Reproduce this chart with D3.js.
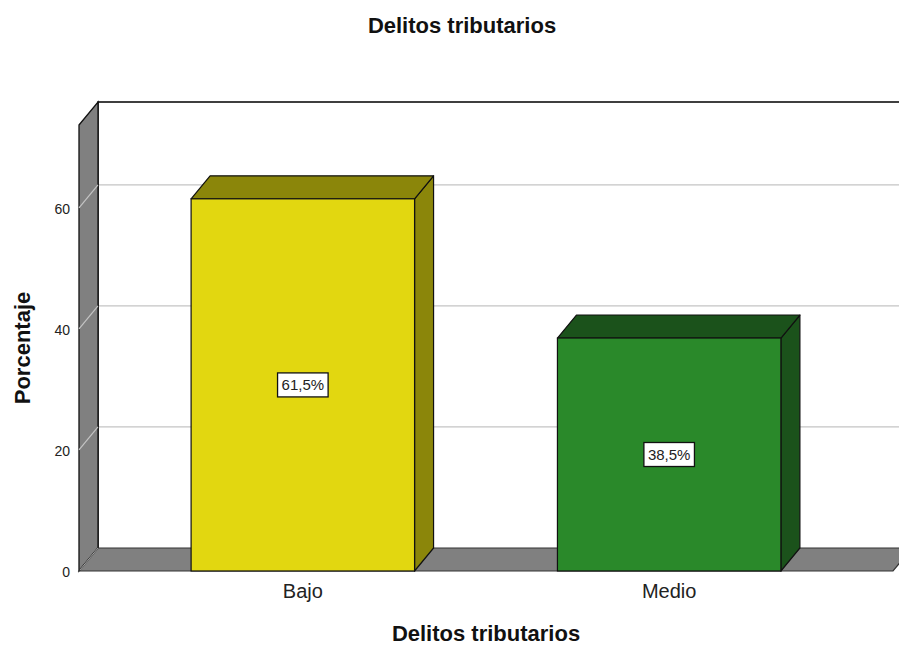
<!DOCTYPE html>
<html>
<head>
<meta charset="utf-8">
<script src="https://cdn.jsdelivr.net/npm/d3@7"></script>
<style>
  html, body { margin: 0; padding: 0; background: #fff; }
  svg { display: block; font-family: "Liberation Sans", Arial, sans-serif; }
</style>
</head>
<body>
<svg id="chart" width="899" height="647"></svg>
<script>
// ---- data ----
const categories = ["Bajo", "Medio"];
const values = [61.5, 38.5];
const valueLabels = ["61,5%", "38,5%"];
const yTicks = [0, 20, 40, 60];
const titleText = "Delitos tributarios";
const xTitle = "Delitos tributarios";
const yTitle = "Porcentaje";

// ---- styles ----
const frontColors = ["#e2d710", "#2a892a"];
const darkColors  = ["#8b860a", "#1b521b"];
const wallGray = "#808080";
const gridGray = "#c4c4c4";

const svg = d3.select("#chart");
const W = 899, H = 647;

// front plane geometry
const pLeft = 79, pRight = 893, pBottom = 571, pTop = 125;
const dx = 19, dy = 23;   // depth offset

const y = d3.scaleLinear().domain([0, 73.7]).range([pBottom, pTop]);
const x = d3.scaleBand().domain(categories).range([pLeft, pRight])
  .paddingInner(0.39).paddingOuter(0.306);

const line = d3.line();

// back wall
svg.append("rect")
  .attr("x", pLeft + dx).attr("y", pTop - dy)
  .attr("width", W + 40).attr("height", pBottom - pTop)
  .attr("fill", "#fff");

// gridlines on back wall
svg.append("g").selectAll("line").data(yTicks.filter(t => t > 0)).join("line")
  .attr("x1", pLeft + dx).attr("x2", W + 40)
  .attr("y1", d => y(d) - dy).attr("y2", d => y(d) - dy)
  .attr("stroke", gridGray).attr("stroke-width", 1.2);

// back wall outline (top + left edge)
svg.append("path")
  .attr("d", line([[W + 40, pTop - dy], [pLeft + dx, pTop - dy], [pLeft + dx, pBottom - dy]]))
  .attr("fill", "none").attr("stroke", "#000").attr("stroke-width", 1.5);

// left wall
svg.append("path")
  .attr("d", line([[pLeft, pTop], [pLeft + dx, pTop - dy], [pLeft + dx, pBottom - dy], [pLeft, pBottom]]) + "Z")
  .attr("fill", wallGray).attr("stroke", "#111").attr("stroke-width", 1.3);

// gridlines on left wall
svg.append("g").selectAll("line").data(yTicks.filter(t => t > 0)).join("line")
  .attr("x1", pLeft).attr("x2", pLeft + dx)
  .attr("y1", d => y(d)).attr("y2", d => y(d) - dy)
  .attr("stroke", gridGray).attr("stroke-width", 1.2);

// floor
svg.append("path")
  .attr("d", line([[pLeft, pBottom], [pLeft + dx, pBottom - dy], [pRight + dx, pBottom - dy], [pRight, pBottom]]) + "Z")
  .attr("fill", wallGray).attr("stroke", "#333").attr("stroke-width", 1.2);
svg.append("line")
  .attr("x1", pLeft + 1).attr("x2", pLeft + dx).attr("y1", pBottom - 1).attr("y2", pBottom - dy)
  .attr("stroke", "#a0a0a0").attr("stroke-width", 1);

// bars
const bw = x.bandwidth();
const bars = svg.append("g").selectAll("g").data(categories).join("g");
bars.each(function (c, i) {
  const g = d3.select(this);
  const x0 = x(c), y0 = y(values[i]), yb = y(0);
  g.append("path")
    .attr("d", line([[x0 + bw, y0], [x0 + bw + dx, y0 - dy], [x0 + bw + dx, yb - dy], [x0 + bw, yb]]) + "Z")
    .attr("fill", darkColors[i]).attr("stroke", "#111").attr("stroke-width", 1.2)
    .attr("stroke-linejoin", "round");
  g.append("path")
    .attr("d", line([[x0, y0], [x0 + dx, y0 - dy], [x0 + bw + dx, y0 - dy], [x0 + bw, y0]]) + "Z")
    .attr("fill", darkColors[i]).attr("stroke", "#111").attr("stroke-width", 1.2)
    .attr("stroke-linejoin", "round");
  g.append("rect")
    .attr("x", x0).attr("y", y0).attr("width", bw).attr("height", yb - y0)
    .attr("fill", frontColors[i]).attr("stroke", "#111").attr("stroke-width", 1.2);
  const cx = x0 + bw / 2, cy = (y0 + yb) / 2;
  const t = g.append("text")
    .attr("x", cx).attr("y", cy)
    .attr("text-anchor", "middle").attr("dominant-baseline", "central")
    .attr("font-size", 15).attr("fill", "#222")
    .text(valueLabels[i]);
  const bb = t.node().getBBox();
  g.insert("rect", "text")
    .attr("x", bb.x - 4).attr("y", cy - 12)
    .attr("width", bb.width + 8).attr("height", 24)
    .attr("fill", "#fff").attr("stroke", "#111").attr("stroke-width", 1.3);
});

// y axis tick labels
const yAxis = d3.axisLeft(y).tickValues(yTicks).tickSize(0).tickPadding(9);
const ya = svg.append("g").attr("transform", `translate(${pLeft},0)`).call(yAxis);
ya.select(".domain").remove();
ya.selectAll("text").attr("font-size", 14).attr("fill", "#222")
  .attr("font-family", "Liberation Sans, Arial, sans-serif").attr("dy", "0.4em");

// category labels
svg.append("g").selectAll("text").data(categories).join("text")
  .attr("x", d => x(d) + bw / 2).attr("y", 598)
  .attr("text-anchor", "middle").attr("font-size", 20).attr("fill", "#222")
  .text(d => d);

// titles
svg.append("text").attr("x", 462).attr("y", 33).attr("text-anchor", "middle")
  .attr("font-size", 22).attr("font-weight", "bold").attr("fill", "#111").text(titleText);
svg.append("text").attr("x", 486).attr("y", 641).attr("text-anchor", "middle")
  .attr("font-size", 22).attr("font-weight", "bold").attr("fill", "#111").text(xTitle);
svg.append("text").attr("transform", "translate(30,348) rotate(-90)").attr("text-anchor", "middle")
  .attr("font-size", 22).attr("font-weight", "bold").attr("fill", "#111").text(yTitle);
</script>
</body>
</html>
